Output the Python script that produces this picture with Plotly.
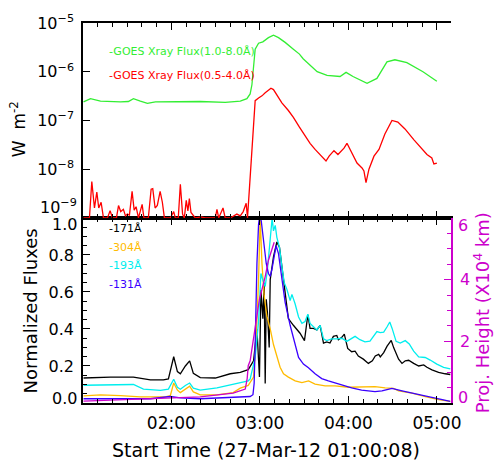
import pandas as pd
import plotly.graph_objects as go

# Time stamps are minutes after 01:00 UT on 27-Mar-2012
T0 = pd.Timestamp("2012-03-27 01:00:00")

# GOES 1.0-8.0 A flux (W m^-2)
goes_long_min = [0.5, 5.2, 12.0, 25.5, 30.9, 34.3, 39.0, 43.8, 49.2, 62.7, 79.6, 96.5,
                 106.7, 111.2, 113.4, 114.6, 115.7, 116.8, 119.1, 122.0, 125.8, 129.2,
                 132.6, 137.1, 142.7, 146.8, 149.3, 154.0, 158.8, 165.5, 174.3, 178.4,
                 183.1, 192.6, 199.3, 206.1, 211.5, 219.6, 230.5, 239.9]
goes_long = [2.4e-7, 2.8e-7, 2.5e-7, 2.4e-7, 2.45e-7, 2.8e-7, 2.5e-7, 2.25e-7, 2.4e-7,
             2.4e-7, 2.45e-7, 2.35e-7, 2.5e-7, 2.8e-7, 3.5e-7, 5.4e-7, 1.58e-6, 2.9e-6,
             3.85e-6, 4.1e-6, 5.0e-6, 5.6e-6, 5.0e-6, 4.0e-6, 2.9e-6, 2.3e-6, 1.85e-6,
             1.34e-6, 1.0e-6, 8.4e-7, 8.0e-7, 9.7e-7, 8.0e-7, 5.8e-7, 7.3e-7, 1.6e-6,
             1.76e-6, 1.53e-6, 1.0e-6, 6.4e-7]

# GOES 0.5-4.0 A flux (W m^-2)
goes_short_min = [0.5, 4.5, 6.1, 7.9, 9.5, 10.8, 12.4, 14.0, 16.7, 18.5, 20.1, 22.8, 24.2,
                  25.7, 27.5, 28.9, 30.2, 31.6, 33.4, 34.8, 36.1, 37.7, 40.2, 41.4, 44.4,
                  46.3, 47.4, 49.0, 50.5, 52.4, 53.9, 55.3, 59.3, 61.6, 62.7, 64.7, 66.1,
                  67.6, 68.8, 70.1, 71.2, 72.2, 73.3, 75.1, 76.2, 80.1, 83.0, 89.8, 90.9,
                  92.1, 95.0, 96.5, 99.9, 104.4, 106.7, 108.7, 110.7, 111.6, 113.4, 115.7,
                  116.8, 119.1, 121.4, 123.6, 127.5, 129.2, 131.5, 134.9, 139.3, 142.7,
                  146.8, 154.0, 157.4, 162.1, 164.8, 166.9, 170.2, 172.9, 177.0, 179.0,
                  182.4, 185.8, 189.2, 190.5, 191.9, 193.9, 197.3, 200.7, 204.7, 209.5,
                  213.5, 218.3, 224.4, 228.4, 233.2, 236.5, 237.9, 239.9]
goes_short = [1.0e-9, 1.0e-9, 5.6e-9, 1.6e-9, 3.4e-9, 1.6e-9, 2.1e-9, 1.0e-9, 1.0e-9,
              1.4e-9, 1.0e-9, 1.0e-9, 1.8e-9, 1.35e-9, 1.5e-9, 1.1e-9, 1.2e-9, 1.15e-9,
              3.5e-9, 1.45e-9, 1.7e-9, 1.0e-9, 1.9e-9, 1.0e-9, 1.0e-9, 3.9e-9, 4.0e-9,
              1.6e-9, 1.8e-9, 3.5e-9, 2.1e-9, 1.0e-9, 1.0e-9, 1.35e-9, 1.0e-9, 1.0e-9,
              4.9e-9, 1.2e-9, 1.0e-9, 2.3e-9, 1.4e-9, 2.5e-9, 1.3e-9, 1.1e-9, 1.0e-9,
              1.05e-9, 1.0e-9, 1.0e-9, 1.5e-9, 1.0e-9, 1.6e-9, 1.0e-9, 1.0e-9, 1.2e-9,
              1.1e-9, 1.35e-9, 2.0e-9, 1.0e-9, 8.0e-9, 8.4e-8, 2.55e-7, 2.9e-7, 3.2e-7,
              3.7e-7, 4.6e-7, 4.3e-7, 3.4e-7, 2.3e-7, 1.6e-7, 1.16e-7, 7.3e-8, 3.4e-8,
              2.55e-8, 1.85e-8, 1.47e-8, 1.85e-8, 2.4e-8, 2.0e-8, 2.7e-8, 3.4e-8, 2.1e-8,
              1.34e-8, 1.06e-8, 9.2e-9, 5.3e-9, 1.0e-8, 1.85e-8, 2.55e-8, 5.3e-8, 1.0e-7,
              9.3e-8, 6.7e-8, 4.0e-8, 2.9e-8, 2.0e-8, 1.7e-8, 1.28e-8, 1.34e-8]

# AIA normalized light curves
aia171_min = [0.5, 18.7, 34.3, 45.8, 54.6, 58.0, 61.6, 64.1, 66.1, 69.5, 72.4, 74.9, 79.6,
              89.8, 99.9, 106.7, 112.1, 115.7, 118.0, 119.7, 120.7, 122.0, 122.9, 123.6,
              124.3, 125.1, 126.3, 127.0, 129.2, 131.5, 133.3, 136.0, 139.3, 142.7, 147.2,
              150.2, 152.5, 154.0, 156.3, 158.6, 160.8, 163.1, 165.3, 167.5, 169.8, 172.1,
              173.2, 175.5, 177.2, 179.5, 182.2, 184.5, 186.7, 190.1, 193.5, 196.2, 198.2,
              200.5, 201.6, 203.9, 206.2, 209.0, 210.7, 214.0, 216.3, 218.5, 220.8, 224.2,
              227.6, 231.0, 233.2, 236.6, 241.1, 245.6, 249.0]
aia171 = [0.135, 0.14, 0.14, 0.125, 0.125, 0.13, 0.25, 0.17, 0.158, 0.2, 0.228, 0.16,
          0.137, 0.135, 0.158, 0.166, 0.18, 0.228, 0.40, 0.14, 0.61, 0.456, 0.65, 0.105,
          0.56, 0.49, 0.30, 0.667, 0.79, 0.87, 0.84, 0.667, 0.456, 0.42, 0.377, 0.337,
          0.477, 0.403, 0.403, 0.395, 0.42, 0.324, 0.33, 0.324, 0.36, 0.365, 0.342, 0.355,
          0.372, 0.295, 0.277, 0.28, 0.254, 0.237, 0.214, 0.228, 0.254, 0.263, 0.249,
          0.272, 0.307, 0.338, 0.298, 0.237, 0.214, 0.228, 0.231, 0.214, 0.2, 0.206,
          0.193, 0.179, 0.166, 0.158, 0.154]

aia304_min = [0.5, 12.0, 25.5, 39.0, 55.9, 59.3, 61.6, 64.1, 66.1, 69.5, 72.4, 74.9, 79.6,
              90.9, 101.9, 106.7, 112.1, 115.7, 117.5, 119.1, 120.2, 121.4, 122.9, 124.7,
              127.0, 129.2, 131.5, 133.7, 136.0, 139.3, 143.9, 148.5, 153.0, 157.4, 164.2,
              170.9, 179.9, 188.9, 198.0, 204.9, 210.6, 214.0, 223.0, 232.0, 241.1, 249.0]
aia304 = [0.038, 0.044, 0.04, 0.033, 0.033, 0.04, 0.108, 0.07, 0.056, 0.075, 0.091, 0.06,
          0.044, 0.044, 0.056, 0.08, 0.095, 0.14, 0.35, 0.667, 1.0, 0.754, 0.58, 0.47,
          0.40, 0.316, 0.246, 0.193, 0.158, 0.14, 0.12, 0.11, 0.119, 0.102, 0.092, 0.092,
          0.085, 0.085, 0.088, 0.082, 0.079, 0.066, 0.053, 0.035, 0.018, 0.009]

aia193_min = [0.5, 18.7, 34.3, 41.1, 52.6, 58.0, 61.6, 64.1, 66.1, 69.5, 72.4, 74.9, 79.6,
              90.9, 101.9, 106.7, 112.1, 113.4, 116.8, 119.1, 120.7, 122.2, 123.6, 125.1,
              126.5, 127.5, 128.3, 129.2, 130.4, 131.5, 133.3, 134.9, 136.5, 138.3, 140.5,
              141.7, 143.9, 146.2, 148.5, 150.6, 152.5, 154.0, 156.3, 158.6, 160.8, 163.1,
              165.3, 168.7, 172.1, 175.5, 178.9, 182.2, 184.5, 187.8, 191.2, 194.6, 198.0,
              199.3, 201.6, 203.9, 206.2, 208.0, 209.6, 212.3, 215.1, 218.5, 221.2, 224.2,
              227.6, 232.0, 235.4, 239.9, 244.5, 249.0]
aia193 = [0.096, 0.096, 0.1, 0.075, 0.068, 0.075, 0.128, 0.085, 0.074, 0.095, 0.108, 0.08,
          0.07, 0.082, 0.1, 0.108, 0.12, 0.13, 0.245, 0.44, 0.70, 0.66, 0.63, 0.72, 0.86,
          0.91, 1.0, 0.93, 0.96, 0.895, 0.84, 0.737, 0.65, 0.614, 0.553, 0.587, 0.535,
          0.465, 0.43, 0.44, 0.48, 0.43, 0.41, 0.395, 0.42, 0.347, 0.337, 0.347, 0.347,
          0.35, 0.333, 0.351, 0.36, 0.342, 0.33, 0.334, 0.372, 0.386, 0.38, 0.383, 0.412,
          0.438, 0.403, 0.333, 0.324, 0.337, 0.319, 0.28, 0.249, 0.246, 0.232, 0.21,
          0.193, 0.184]

aia131_min = [0.5, 45.8, 59.3, 66.1, 79.6, 106.7, 113.4, 115.3, 116.1, 116.8, 118.0, 119.1,
              119.7, 120.9, 122.4, 124.3, 125.8, 127.0, 128.1, 129.7, 131.0, 132.6, 134.9,
              137.1, 140.5, 143.9, 146.2, 149.5, 152.9, 157.4, 161.9, 166.4, 173.2, 182.2,
              188.9, 198.0, 202.7, 209.5, 216.3, 225.3, 234.3, 241.1, 249.0]
aia131 = [0.023, 0.023, 0.035, 0.028, 0.023, 0.03, 0.035, 0.045, 0.105, 0.316, 0.755,
          0.965, 1.0, 0.985, 0.877, 0.754, 0.70, 0.684, 0.72, 0.807, 0.85, 0.807, 0.667,
          0.544, 0.42, 0.31, 0.246, 0.21, 0.19, 0.158, 0.132, 0.119, 0.102, 0.082, 0.07,
          0.062, 0.066, 0.079, 0.066, 0.05, 0.035, 0.026, 0.009]

# Projected height of the erupting feature (10^4 km)
height_min = [0.5, 25.5, 57.1, 79.6, 101.9, 110.1, 111.4, 112.1, 113.4, 115.7, 118.0,
              119.7, 121.4, 123.6, 125.8, 128.1, 129.7]
height = [0.06, 0.1, 0.16, 0.2, 0.32, 0.45, 0.8, 1.21, 1.37, 2.1, 2.95, 3.37, 3.68, 4.1,
          4.63, 4.95, 5.21]

goes_levels = [1e-8, 1e-7, 1e-6, 1e-5]
goes_classes = ["A", "B", "C", "M"]
log_labels = ["10<sup>−8</sup>", "10<sup>−7</sup>", "10<sup>−6</sup>", "10<sup>−5</sup>"]
flux_ticks = [0.2, 0.4, 0.6, 0.8]
height_ticks = [2, 4]

# 2..9 sub-decade tick positions for the log axes
log_minor = [m * 10.0 ** e for e in range(-9, -5) for m in range(2, 10)]


def to_time(minutes):
    return T0 + pd.to_timedelta(minutes, unit="min")


FONT = "DejaVu Sans"
GREEN, RED = "#33ee33", "#ff0000"
ORANGE, CYAN, BLUE, MAGENTA = "#ffbb00", "#00eeee", "#3a00ff", "#cc00cc"
LW = 1.3

fig = go.Figure()

# top panel: GOES fluxes
fig.add_trace(go.Scatter(x=to_time(goes_long_min), y=goes_long, mode="lines",
                         line=dict(color=GREEN, width=LW), xaxis="x2", yaxis="y3"))
fig.add_trace(go.Scatter(x=to_time(goes_short_min), y=goes_short, mode="lines",
                         line=dict(color=RED, width=LW), xaxis="x2", yaxis="y3"))

# bottom panel: AIA channels
for mins, vals, col in [(aia171_min, aia171, "black"), (aia304_min, aia304, ORANGE),
                        (aia193_min, aia193, CYAN), (aia131_min, aia131, BLUE)]:
    fig.add_trace(go.Scatter(x=to_time(mins), y=vals, mode="lines",
                             line=dict(color=col, width=LW), xaxis="x", yaxis="y"))
fig.add_trace(go.Scatter(x=to_time(height_min), y=height, mode="lines",
                         line=dict(color=MAGENTA, width=LW), xaxis="x", yaxis="y2"))

x_range = ["2012-03-27 01:00:08", "2012-03-27 05:09:30"]
tick_font = dict(family=FONT, size=16, color="black")
SPLIT = 0.487

common_x = dict(type="date", range=x_range, tick0="2012-03-27 02:00", dtick=3600000,
                ticks="inside", ticklen=7, tickcolor="black", showline=True,
                linecolor="black", linewidth=1.5, mirror="ticks", showgrid=False,
                zeroline=False,
                minor=dict(dtick=600000, ticks="inside", ticklen=4, tickcolor="black",
                           showgrid=False))

log_common = dict(type="log", range=[-9, -5], anchor="x2", showgrid=False,
                  zeroline=False, tickcolor="black")

fig.update_layout(
    width=495, height=463,
    margin=dict(l=83, r=44, t=13, b=60),
    paper_bgcolor="white", plot_bgcolor="white",
    showlegend=False,
    font=dict(family=FONT, size=16, color="black"),
    xaxis=dict(common_x, anchor="y", domain=[0, 1], tickformat="%H:%M",
               tickfont=dict(family=FONT, size=17, color="black"), ticklabelstandoff=4),
    xaxis2=dict(common_x, anchor="y3", domain=[0, 1], matches="x",
                showticklabels=False),
    yaxis=dict(domain=[0, SPLIT], range=[0, 1], tickvals=flux_ticks,
               ticktext=[f"{v:.1f}" for v in flux_ticks], ticks="inside", ticklen=7,
               tickcolor="black", showline=True, linecolor="black", linewidth=1.5,
               showgrid=False, zeroline=False, tickfont=tick_font, ticklabelstandoff=4,
               minor=dict(dtick=0.05, ticks="inside", ticklen=4, tickcolor="black",
                          showgrid=False)),
    yaxis2=dict(overlaying="y", side="right", anchor="x", range=[0, 6],
                tickvals=height_ticks, ticktext=[str(v) for v in height_ticks],
                ticks="inside", ticklen=7, tickcolor=MAGENTA, showline=True,
                linecolor=MAGENTA, linewidth=1.5, showgrid=False, zeroline=False,
                tickfont=dict(family=FONT, size=16, color=MAGENTA), ticklabelstandoff=4,
                minor=dict(dtick=0.5, ticks="inside", ticklen=4, tickcolor=MAGENTA,
                           showgrid=False)),
    yaxis3=dict(log_common, domain=[SPLIT, 1], tickvals=goes_levels, ticktext=log_labels,
                ticks="inside", ticklen=7, showline=True, linecolor="black",
                linewidth=1.5, tickfont=tick_font, ticklabelstandoff=4),
    yaxis4=dict(log_common, overlaying="y3", side="right", tickvals=goes_levels,
                ticktext=goes_classes, ticks="inside", ticklen=7, showline=True,
                linecolor="black", linewidth=1.5,
                tickfont=dict(family=FONT, size=13, color="black"), ticklabelstandoff=4),
    yaxis5=dict(log_common, overlaying="y3", side="left", tickvals=log_minor,
                ticks="inside", ticklen=4, showticklabels=False, showline=False),
    yaxis6=dict(log_common, overlaying="y3", side="right", tickvals=log_minor,
                ticks="inside", ticklen=4, showticklabels=False, showline=False),
)


def px_x(px):
    return (px - 83) / 368


def px_y(py):
    return (403 - py) / 390


annotations = []

# end labels nudged inward so adjacent panels do not collide
for txt, px, py, col, anchor in [("10<sup>−9</sup>", 79, 201, "black", "right"),
                                 ("1.0", 79, 220, "black", "right"),
                                 ("0.0", 79, 398, "black", "right"),
                                 ("6", 456, 221, MAGENTA, "left"),
                                 ("0", 456, 397, MAGENTA, "left")]:
    annotations.append(dict(x=px_x(px), y=px_y(py), xref="paper", yref="paper",
                            text=txt, showarrow=False, xanchor=anchor, yanchor="middle",
                            font=dict(family=FONT, size=16, color=col)))

# in-panel labels
for txt, py, col in [("-GOES Xray Flux(1.0-8.0Å)", 42, GREEN),
                     ("-GOES Xray Flux(0.5-4.0Å)", 67, RED),
                     ("-171Å", 224, "black"), ("-304Å", 243, ORANGE),
                     ("-193Å", 262, CYAN), ("-131Å", 281, BLUE)]:
    annotations.append(dict(x=px_x(107), y=px_y(py), xref="paper", yref="paper",
                            text=txt, showarrow=False, xanchor="left", yanchor="middle",
                            font=dict(family=FONT, size=11, color=col)))

# axis titles
annotations += [
    dict(x=px_x(18), y=px_y(122), xref="paper", yref="paper", text="W  m<sup>-2</sup>",
         textangle=-90, showarrow=False, xanchor="center", yanchor="middle",
         font=dict(family=FONT, size=17, color="black")),
    dict(x=px_x(30), y=px_y(309), xref="paper", yref="paper", text="Normalized Fluxes",
         textangle=-90, showarrow=False, xanchor="center", yanchor="middle",
         font=dict(family=FONT, size=18, color="black")),
    dict(x=px_x(482), y=px_y(311), xref="paper", yref="paper",
         text="Proj. Height (X10<sup>4</sup> km)", textangle=-90, showarrow=False,
         xanchor="center", yanchor="middle",
         font=dict(family=FONT, size=18, color=MAGENTA)),
    dict(x=px_x(266), y=px_y(451), xref="paper", yref="paper",
         text="Start Time (27-Mar-12 01:00:08)", showarrow=False,
         xanchor="center", yanchor="middle",
         font=dict(family=FONT, size=19, color="black")),
]
fig.update_layout(annotations=annotations)

fig.write_html("out.html")
